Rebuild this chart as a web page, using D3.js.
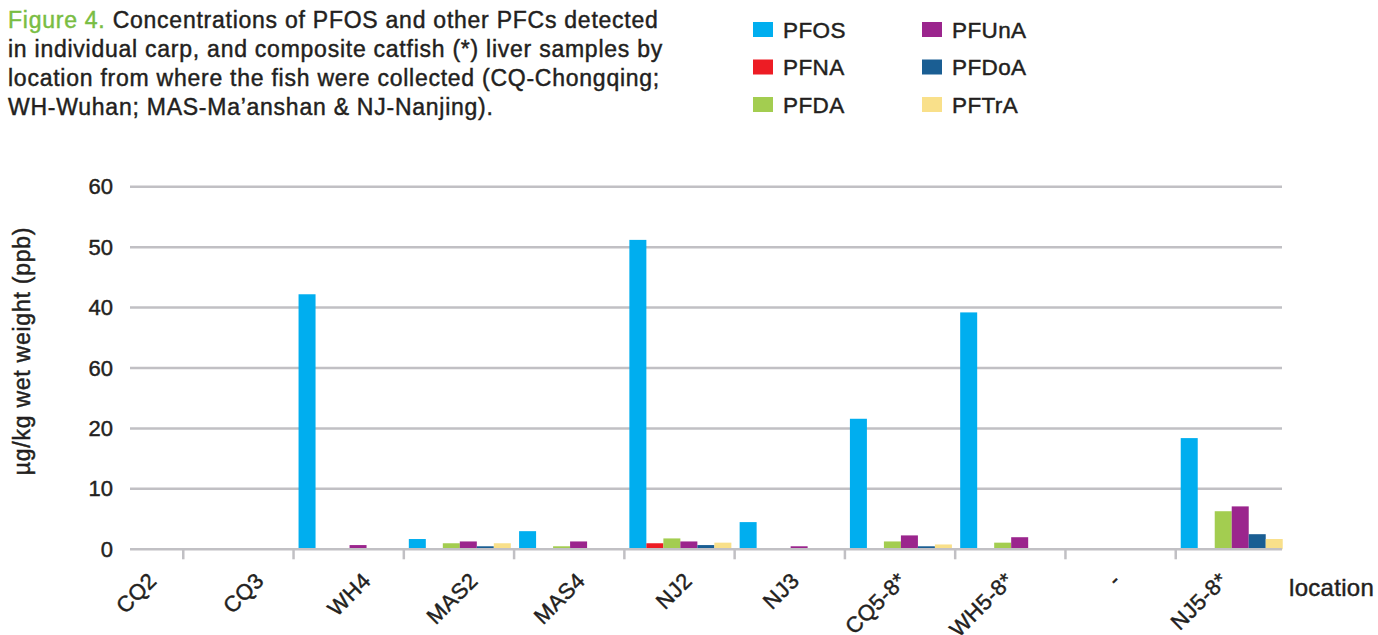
<!DOCTYPE html>
<html>
<head>
<meta charset="utf-8">
<script src="https://cdn.jsdelivr.net/npm/d3@7"></script>
<style>
  body { margin: 0; background: #fff; }
  svg { display: block; font-family: "Liberation Sans", Arial, sans-serif; }
  /* the original uses a medium-weight Helvetica; fake it with a thin stroke */
  text { stroke-width: 0.45px; paint-order: stroke; }
</style>
</head>
<body>
<svg id="chart" width="1378" height="635"></svg>
<script>
// ---------------- data ----------------
const categories = ["CQ2", "CQ3", "WH4", "MAS2", "MAS4", "NJ2", "NJ3", "CQ5-8*", "WH5-8*", "-", "NJ5-8*"];
const seriesNames = ["PFOS", "PFNA", "PFDA", "PFUnA", "PFDoA", "PFTrA"];
const seriesColors = ["#00aeef", "#ed1c24", "#a3cd50", "#9b258d", "#1a5e93", "#f9e08a"];

const PFOS  = [0, 0, 42.2, 1.7, 3.0, 51.2, 4.5, 21.6, 39.2, 0, 18.4];
const PFNA  = [0, 0, 0,    0,   0,   1.0,  0,   0,    0,    0, 0];
const PFDA  = [0, 0, 0,    1.0, 0.5, 1.8,  0,   1.3,  1.1,  0, 6.3];
const PFUnA = [0, 0, 0.7,  1.3, 1.3, 1.3,  0.5, 2.3,  2.0,  0, 7.1];
const PFDoA = [0, 0, 0,    0.5, 0,   0.7,  0,   0.5,  0,    0, 2.5];
const PFTrA = [0, 0, 0,    1.0, 0,   1.1,  0,   0.8,  0,    0, 1.7];

const yTickValues = [0, 10, 20, 30, 40, 50, 60];
const yTickLabels = ["0", "10", "20", "60", "40", "50", "60"]; // as printed in the original

const titleLines = [
  "Concentrations of PFOS and other PFCs detected",
  "in individual carp, and composite catfish (*) liver samples by",
  "location from where the fish were collected (CQ-Chongqing;",
  "WH-Wuhan; MAS-Ma\u2019anshan & NJ-Nanjing)."
];

const seriesValues = [PFOS, PFNA, PFDA, PFUnA, PFDoA, PFTrA];

// ---------------- setup ----------------
const svg = d3.select("#chart");
const textColor = "#231f20";
const gridColor = "#c1c0c4";

const plotLeft = 130, plotRight = 1282;

const x = d3.scaleBand().domain(categories).range([73, 1286]);
const xInner = d3.scaleBand().domain(seriesNames).range([5, 107]);
const xLabel = d3.scalePoint().domain(categories).range([158, 1229]);
const y = d3.scaleLinear().domain([0, 60]).range([549.3, 186.7]);

// ---------------- title ----------------
const title = svg.append("text")
  .attr("x", 8)
  .attr("font-size", 23)
  .attr("letter-spacing", 0.75)
  .attr("fill", textColor)
  .attr("stroke", textColor);

titleLines.forEach((line, i) => {
  const t = title.append("tspan").attr("x", 8).attr("y", 28 + i * 29);
  if (i === 0) {
    t.append("tspan").attr("fill", "#79bd43").attr("stroke", "#79bd43").text("Figure 4. ");
    t.append("tspan").text(line);
  } else {
    t.text(line);
  }
});

// ---------------- legend ----------------
const legend = svg.append("g");
seriesNames.forEach((name, i) => {
  const col = Math.floor(i / 3), row = i % 3;
  const g = legend.append("g")
    .attr("transform", `translate(${753 + col * 169}, ${22 + row * 37.5})`);
  g.append("rect")
    .attr("width", 20).attr("height", 15)
    .attr("fill", seriesColors[i]);
  g.append("text")
    .attr("x", 30).attr("y", 15.5)
    .attr("font-size", 22.5)
    .attr("letter-spacing", 0.4)
    .attr("fill", textColor)
    .attr("stroke", textColor)
    .text(name);
});

// ---------------- grid + y axis ----------------
const grid = svg.append("g");
grid.selectAll("line")
  .data(yTickValues.filter(v => v > 0))
  .enter().append("line")
  .attr("x1", plotLeft).attr("x2", plotRight)
  .attr("y1", d => y(d)).attr("y2", d => y(d))
  .attr("stroke", gridColor)
  .attr("stroke-width", 2.5);

const yAxis = d3.axisLeft(y)
  .tickValues(yTickValues)
  .tickFormat((d, i) => yTickLabels[i])
  .tickSize(0)
  .tickPadding(0);

const yAxisG = svg.append("g")
  .attr("transform", "translate(113,0)")
  .call(yAxis);
yAxisG.select(".domain").remove();
yAxisG.selectAll("text")
  .attr("font-size", 22)
  .attr("font-family", "Liberation Sans, Arial, sans-serif")
  .attr("fill", textColor)
  .attr("stroke", textColor);

svg.append("text")
  .attr("transform", "translate(30,351) rotate(-90)")
  .attr("text-anchor", "middle")
  .attr("font-size", 23)
  .attr("letter-spacing", 0.75)
  .attr("fill", textColor)
  .attr("stroke", textColor)
  .text("\u00b5g/kg wet weight (ppb)");

// ---------------- bars ----------------
const groups = svg.append("g").selectAll("g")
  .data(categories)
  .enter().append("g")
  .attr("transform", d => `translate(${x(d)},0)`);

groups.selectAll("rect")
  .data((d, ci) => seriesNames.map((s, si) => ({ s, si, v: seriesValues[si][ci] })))
  .enter().append("rect")
  .filter(d => d.v > 0)
  .attr("x", d => xInner(d.s))
  .attr("width", xInner.bandwidth())
  .attr("y", d => y(d.v))
  .attr("height", d => y(0) - y(d.v))
  .attr("fill", d => seriesColors[d.si]);

// ---------------- x axis ----------------
svg.append("line")
  .attr("x1", plotLeft).attr("x2", plotRight)
  .attr("y1", y(0)).attr("y2", y(0))
  .attr("stroke", gridColor)
  .attr("stroke-width", 2.5);

// ticks sit between categories
svg.append("g").selectAll("line")
  .data(categories.slice(1))
  .enter().append("line")
  .attr("x1", d => x(d)).attr("x2", d => x(d))
  .attr("y1", y(0)).attr("y2", y(0) + 10)
  .attr("stroke", gridColor)
  .attr("stroke-width", 2.5);

svg.append("g").selectAll("text")
  .data(categories)
  .enter().append("text")
  .attr("transform", d => `translate(${xLabel(d)},582) rotate(-45)`)
  .attr("text-anchor", "end")
  .attr("font-size", 22)
  .attr("letter-spacing", 0.4)
  .attr("fill", textColor)
  .attr("stroke", textColor)
  .text(d => d);

svg.append("text")
  .attr("x", 1289).attr("y", 596)
  .attr("font-size", 24)
  .attr("letter-spacing", 0.3)
  .attr("fill", textColor)
  .attr("stroke", textColor)
  .text("location");
</script>
</body>
</html>
